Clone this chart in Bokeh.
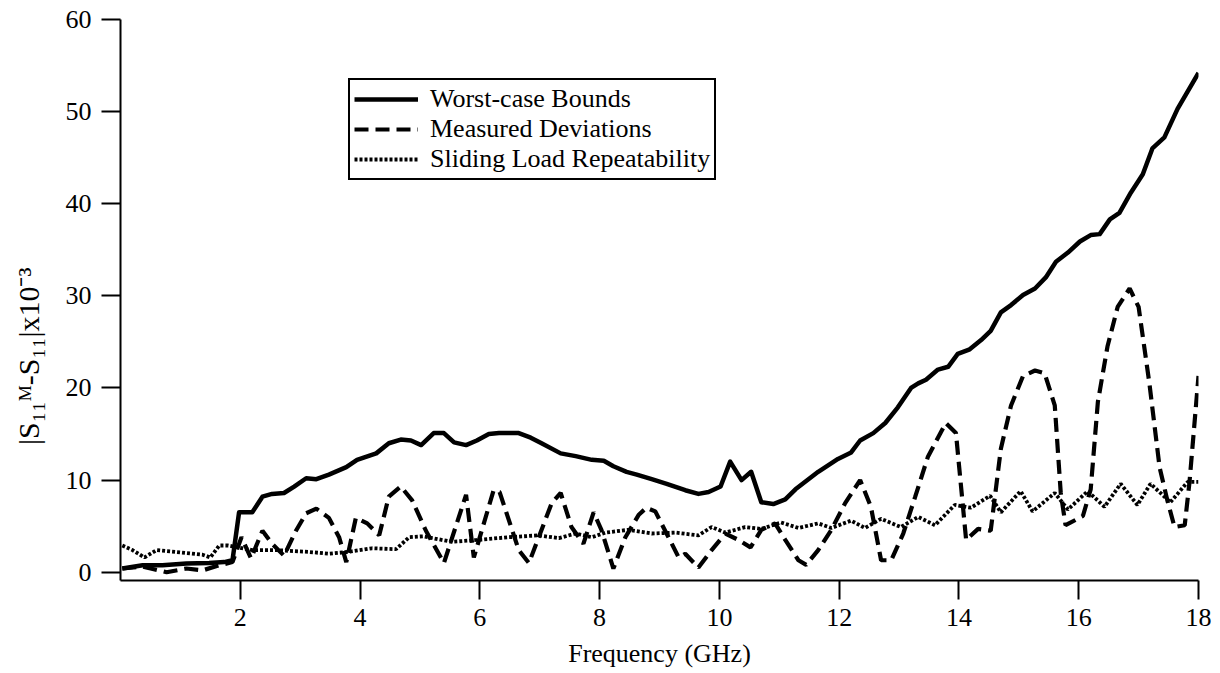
from bokeh.plotting import figure
from bokeh.models import Range1d, FixedTicker, Legend, LegendItem
from bokeh.embed import file_html
from bokeh.resources import INLINE

# ---- data ----
wc_freq = [0.03, 0.37, 0.7, 1.1, 1.48, 1.73, 1.87, 1.98, 2.2, 2.37, 2.53, 2.73, 2.9, 3.1, 3.27,
           3.48, 3.77, 3.95, 4.27, 4.48, 4.68, 4.85, 5.02, 5.23, 5.4, 5.57, 5.77, 5.95, 6.15,
           6.32, 6.65, 6.85, 7.03, 7.35, 7.6, 7.87, 8.07, 8.23, 8.45, 8.62, 8.87, 9.12, 9.43,
           9.65, 9.82, 10.02, 10.18, 10.37, 10.53, 10.7, 10.9, 11.1, 11.27, 11.65, 11.98, 12.2,
           12.35, 12.57, 12.77, 12.98, 13.2, 13.32, 13.45, 13.65, 13.82, 13.98, 14.18, 14.37,
           14.53, 14.7, 14.87, 15.07, 15.27, 15.45, 15.62, 15.82, 16.02, 16.2, 16.35, 16.52,
           16.68, 16.87, 17.07, 17.23, 17.43, 17.65, 18.0]
wc_vals = [0.4, 0.75, 0.75, 0.95, 1.0, 1.1, 1.3, 6.5, 6.5, 8.2, 8.5, 8.6, 9.3, 10.2, 10.1,
           10.6, 11.4, 12.2, 12.9, 14.0, 14.4, 14.3, 13.8, 15.1, 15.1, 14.1, 13.8, 14.3, 15.0,
           15.1, 15.1, 14.6, 14.0, 12.9, 12.6, 12.2, 12.1, 11.5, 10.9, 10.6, 10.1, 9.6, 8.9,
           8.5, 8.7, 9.3, 12.0, 10.0, 10.9, 7.6, 7.4, 7.9, 9.0, 10.9, 12.3, 13.0,
           14.3, 15.1, 16.2, 17.9, 20.0, 20.5, 20.9, 22.0, 22.3, 23.7, 24.2, 25.2,
           26.2, 28.2, 29.0, 30.1, 30.8, 32.0, 33.7, 34.7, 35.9, 36.6, 36.7, 38.3,
           39.0, 41.2, 43.2, 46.0, 47.2, 50.3, 54.2]

md_freq = [0.03, 0.37, 0.77, 1.1, 1.37, 1.65, 1.87, 2.02, 2.18, 2.37, 2.53, 2.73, 2.93, 3.1,
           3.27, 3.48, 3.65, 3.77, 3.93, 4.12, 4.32, 4.48, 4.68, 4.87, 5.1, 5.4, 5.77, 5.9,
           6.23, 6.33, 6.65, 6.82, 7.2, 7.35, 7.53, 7.73, 7.9, 8.03, 8.23, 8.43, 8.65, 8.78,
           8.93, 9.15, 9.32, 9.43, 9.65, 9.87, 10.1, 10.32, 10.52, 10.7, 10.93, 11.1, 11.32,
           11.45, 11.65, 11.87, 12.1, 12.35, 12.53, 12.7, 12.87, 13.07, 13.27, 13.48, 13.78,
           13.95, 14.12, 14.32, 14.53, 14.7, 14.87, 15.07, 15.27, 15.43, 15.6, 15.7, 15.78,
           16.07, 16.2, 16.32, 16.48, 16.65, 16.85, 17.0, 17.18, 17.35, 17.48, 17.6, 17.77,
           17.85, 18.0]
md_vals = [0.4, 0.6, 0.0, 0.4, 0.2, 0.75, 1.1, 3.8, 1.5, 4.5, 3.1, 1.8, 4.5, 6.4,
           6.9, 5.9, 3.8, 1.1, 5.9, 5.3, 4.0, 8.2, 9.3, 7.8, 4.5, 1.0, 8.4, 1.6,
           8.9, 8.7, 2.4, 1.0, 7.5, 8.6, 4.9, 3.1, 6.5, 4.6, 0.4, 3.8, 6.2, 7.0,
           6.6, 3.8, 1.6, 2.0, 0.5, 2.4, 4.2, 3.5, 2.7, 4.6, 5.3, 3.5, 1.3,
           0.8, 2.4, 4.6, 7.5, 10.0, 7.1, 1.3, 1.3, 4.2, 8.2, 12.5, 16.2,
           15.1, 3.5, 4.7, 4.5, 13.4, 18.1, 21.3, 21.9, 21.6, 18.1, 8.6, 5.1,
           6.1, 9.0, 18.5, 24.5, 28.8, 30.8, 28.8, 20.5, 11.4, 7.8, 4.9, 5.1,
           9.8, 21.3]

sl_freq = [0.03, 0.2, 0.4, 0.6, 0.93, 1.37, 1.5, 1.65, 1.8, 1.95, 2.2, 2.6, 3.15, 3.48, 3.8,
           4.2, 4.6, 4.82, 5.05, 5.53, 5.95, 6.48, 6.98, 7.32, 7.6, 7.87, 8.1, 8.48, 8.87,
           9.27, 9.65, 9.87, 10.1, 10.43, 10.7, 11.03, 11.32, 11.65, 11.87, 12.2, 12.43, 12.7,
           13.03, 13.32, 13.6, 13.93, 14.2, 14.52, 14.7, 15.03, 15.23, 15.6, 15.82, 16.15,
           16.43, 16.7, 16.98, 17.2, 17.53, 17.82, 18.0]
sl_vals = [2.9, 2.4, 1.6, 2.4, 2.2, 1.9, 1.6, 2.9, 2.9, 2.7, 2.4, 2.4, 2.2, 2.0, 2.2,
           2.6, 2.5, 3.8, 3.9, 3.3, 3.5, 3.8, 4.0, 3.7, 4.2, 3.8, 4.3, 4.6, 4.2,
           4.3, 4.0, 4.9, 4.3, 4.9, 4.7, 5.4, 4.8, 5.3, 4.8, 5.6, 4.8, 5.8,
           4.9, 6.0, 5.1, 7.3, 7.0, 8.3, 6.5, 8.8, 6.6, 8.6, 6.8, 8.8,
           7.1, 9.6, 7.3, 9.6, 7.6, 9.8, 9.8]

x_ticks = [2, 4, 6, 8, 10, 12, 14, 16, 18]
y_ticks = [0, 10, 20, 30, 40, 50, 60]
series_labels = ["Worst-case Bounds", "Measured Deviations", "Sliding Load Repeatability"]
x_title = "Frequency (GHz)"
y_title = "|S\u2081\u2081\u1D39-S\u2081\u2081|x10\u207B\u00B3"

FONT = "Liberation Serif"

p = figure(width=1216, height=672, output_backend="svg", toolbar_location=None,
           x_range=Range1d(0, 18), y_range=Range1d(-0.9, 60),
           min_border_left=120, min_border_right=18, min_border_top=19, min_border_bottom=92)
p.outline_line_color = None
p.xgrid.visible = False
p.ygrid.visible = False
p.background_fill_color = "white"
p.border_fill_color = "white"

for ax in (p.xaxis[0], p.yaxis[0]):
    ax.axis_line_width = 2
    ax.axis_line_color = "black"
    ax.major_tick_line_width = 2
    ax.major_tick_line_color = "black"
    ax.major_tick_in = 0
    ax.major_tick_out = 19
    ax.minor_tick_line_color = None
    ax.major_label_text_font = FONT
    ax.major_label_text_font_size = "26px"
    ax.major_label_text_color = "black"
    ax.axis_label_text_font = FONT
    ax.axis_label_text_font_style = "normal"
    ax.axis_label_text_color = "black"

p.xaxis.axis_label_text_font_size = "26px"
p.yaxis.axis_label_text_font_size = "30px"
p.xaxis.ticker = FixedTicker(ticks=x_ticks)
p.yaxis.ticker = FixedTicker(ticks=y_ticks)
p.xaxis.major_label_standoff = 9
p.yaxis.major_label_standoff = 10
p.xaxis.axis_label = x_title
# trailing no-break spaces shift the rotated label down, as in the reference
p.yaxis.axis_label = y_title + "\u00A0" * 15
p.xaxis.axis_label_standoff = 10
p.yaxis.axis_label_standoff = 18

r1 = p.line(wc_freq, wc_vals, line_color="black", line_width=4.5, line_join="round")
r2 = p.line(md_freq, md_vals, line_color="black", line_width=4.2, line_dash="14 7")
r3 = p.line(sl_freq, sl_vals, line_color="black", line_width=3.8, line_dash="3 2")

legend = Legend(items=[LegendItem(label=series_labels[0], renderers=[r1]),
                       LegendItem(label=series_labels[1], renderers=[r2]),
                       LegendItem(label=series_labels[2], renderers=[r3])],
                location=(228, 400))
legend.label_text_font = FONT
legend.label_text_font_size = "26px"
legend.label_text_line_height = 1.0
legend.label_text_color = "black"
legend.glyph_width = 64
legend.label_standoff = 12
legend.label_height = 26
legend.spacing = -5
legend.padding = 4
legend.margin = 0
legend.border_line_color = "black"
legend.border_line_alpha = 1
legend.border_line_width = 2
legend.background_fill_alpha = 1
p.add_layout(legend, "center")

open("out.html", "w").write(file_html(p, INLINE))
